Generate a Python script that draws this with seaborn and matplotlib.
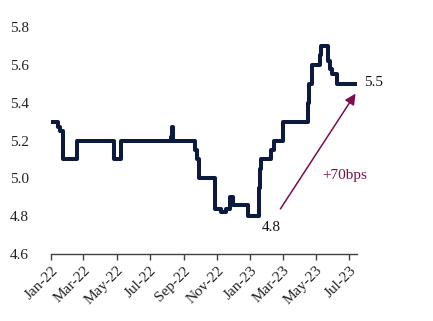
import matplotlib
matplotlib.use("Agg")
import matplotlib.pyplot as plt
import matplotlib.dates as mdates
import seaborn as sns
import pandas as pd

# ---- data ----
dates = [
    "2022-01-01", "2022-01-14", "2022-01-18", "2022-01-23", "2022-02-17",
    "2022-04-27", "2022-05-09", "2022-08-08", "2022-08-10", "2022-08-13",
    "2022-09-22", "2022-09-25", "2022-09-28", "2022-10-28", "2022-11-08",
    "2022-11-17", "2022-11-25", "2022-11-30", "2022-12-27", "2023-01-16",
    "2023-01-18", "2023-01-20", "2023-02-07", "2023-02-14", "2023-03-01",
    "2023-04-16", "2023-04-19", "2023-04-24", "2023-05-08", "2023-05-11",
    "2023-05-23", "2023-05-26", "2023-05-30", "2023-06-08", "2023-07-15",
]
values = [
    5.30, 5.27, 5.25, 5.10, 5.20,
    5.10, 5.20, 5.22, 5.27, 5.20,
    5.15, 5.10, 5.00, 4.84, 4.82,
    4.84, 4.90, 4.86, 4.80, 4.95,
    5.05, 5.10, 5.15, 5.20, 5.30,
    5.40, 5.50, 5.60, 5.65, 5.70,
    5.62, 5.58, 5.55, 5.50, 5.50,
]
yticks = [4.6, 4.8, 5.0, 5.2, 5.4, 5.6, 5.8]
low_label, high_label, change_label = "4.8", "5.5", "+70bps"

df = pd.DataFrame({"date": pd.to_datetime(dates), "value": values})

sns.set_theme(style="white")
plt.rcParams["font.family"] = ["Liberation Serif", "DejaVu Serif"]

fig = plt.figure(figsize=(4.33, 3.21), dpi=100)
ax = fig.add_axes([0.1178, 0.2087, 0.7067, 0.7072])

sns.lineplot(data=df, x="date", y="value", ax=ax, color="#0b1a3e",
             linewidth=2.9, drawstyle="steps-post", estimator=None,
             solid_joinstyle="round", solid_capstyle="round")

ax.set_xlim(pd.Timestamp("2022-01-01"), pd.Timestamp("2023-07-15"))
ax.set_ylim(4.6, 5.8)
ax.set_yticks(yticks)
ax.set_yticklabels([f"{v:.1f}" for v in yticks])
ax.xaxis.set_major_locator(mdates.MonthLocator(bymonth=[1, 3, 5, 7, 9, 11]))
ax.xaxis.set_major_formatter(mdates.DateFormatter("%b-%y"))

for s in ["top", "right", "left"]:
    ax.spines[s].set_visible(False)
ax.spines["bottom"].set_color("#404040")
ax.spines["bottom"].set_linewidth(1.0)
ax.tick_params(axis="x", direction="out", length=4, width=1, color="#404040",
               labelsize=11, labelcolor="#222222", pad=3, bottom=True)
ax.tick_params(axis="y", length=0, labelsize=11, labelcolor="#222222", pad=16)
for lab in ax.get_xticklabels():
    lab.set_rotation(45)
    lab.set_ha("right")
    lab.set_rotation_mode("anchor")
ax.set_xlabel("")
ax.set_ylabel("")
ax.grid(False)

purple = "#7d0c4e"
ax.annotate("", xy=(pd.Timestamp("2023-07-15"), 5.46),
            xytext=(pd.Timestamp("2023-02-22"), 4.826),
            arrowprops=dict(arrowstyle="-|>", color=purple, lw=1.1,
                            mutation_scale=16), annotation_clip=False)
ax.text(pd.Timestamp("2023-02-08"), 4.74, low_label, ha="center", va="center",
        fontsize=11, color="#111111", clip_on=False)
ax.text(pd.Timestamp("2023-08-14"), 5.505, high_label, ha="center", va="center",
        fontsize=11, color="#111111", clip_on=False)
ax.text(pd.Timestamp("2023-06-23"), 5.016, change_label, ha="center", va="center",
        fontsize=11, color=purple, clip_on=False)

fig.savefig("out.png", dpi=100)
